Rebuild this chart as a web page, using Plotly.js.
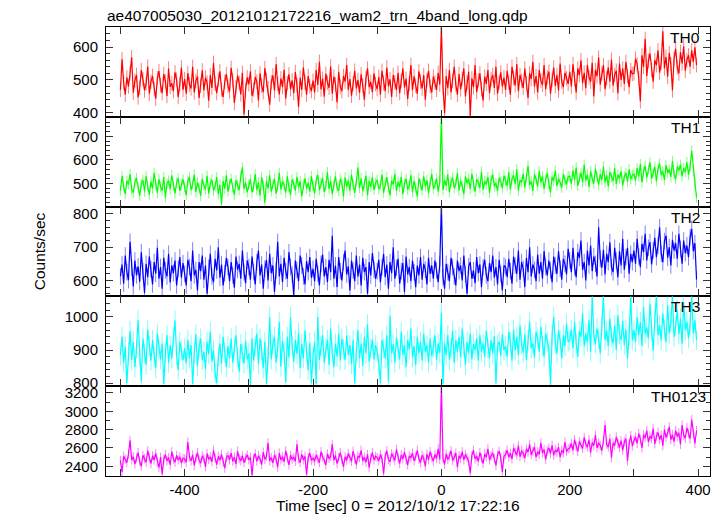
<!DOCTYPE html>
<html><head><meta charset="utf-8">
<script src="https://cdn.plot.ly/plotly-3.0.1.min.js"></script>
<style>html,body{margin:0;padding:0;background:#fff}#chart{width:724px;height:516px}</style>
</head><body><div id="chart"></div>
<script>
const T0 = -500, DT = 2.5;
const th0 = [
470,563,492,455,508,480,520,569,461,498,515,447,476,530,502,468,489,541,458,495,512,472,443,505,527,484,460,518,496,451,535,479,490,466,523,501,448,487,538,470,
503,458,521,486,474,540,462,497,511,445,483,529,468,507,492,437,515,476,552,489,460,501,526,471,448,494,518,482,465,537,499,430,478,513,491,456,522,395,470,508,
487,526,452,471,509,495,438,520,482,463,536,500,475,425,493,514,467,548,488,456,505,478,531,444,490,517,472,499,460,524,485,418,507,470,538,492,455,512,481,466,
498,462,530,485,555,471,504,449,519,492,476,541,458,510,487,432,525,480,466,512,495,545,470,503,452,488,528,474,500,461,517,483,440,506,535,478,494,463,520,488,
472,509,455,528,490,466,538,481,502,448,515,493,470,522,460,497,535,477,504,442,488,545,469,511,483,458,526,495,474,515,440,500,528,481,462,510,492,470,522,486,
665,480,398,512,475,530,462,497,540,486,455,518,471,503,535,450,492,525,390,505,478,545,463,499,520,472,438,510,488,530,460,502,515,476,540,458,494,523,480,507,
470,528,492,455,540,506,483,548,466,515,497,476,535,490,445,520,503,555,480,512,462,530,498,485,545,472,508,525,458,500,538,482,515,468,550,495,478,522,505,488,
525,480,548,502,462,535,515,560,490,522,475,545,508,495,552,450,530,512,568,486,520,545,472,505,538,495,562,483,515,528,460,550,500,535,488,555,512,478,530,518,
520,565,548,505,435,575,540,625,512,558,580,530,495,560,545,590,522,552,648,535,570,510,582,548,468,565,595,538,520,585,550,602,528,560,575,540,590,555,599,545];
const th1 = [
470,532,488,455,512,496,540,474,461,505,523,482,448,497,515,466,530,489,452,508,478,545,493,460,519,485,470,527,441,500,512,476,535,490,458,503,522,469,495,517,
485,450,512,528,472,496,538,463,505,482,447,520,490,475,533,458,501,516,470,488,527,455,494,412,510,478,535,466,499,520,483,452,514,491,472,530,568,477,505,462,
495,518,463,487,540,472,505,448,526,490,418,511,479,535,466,498,520,457,488,545,474,509,492,461,530,485,452,517,499,470,528,483,510,446,495,522,478,504,465,531,
489,458,515,536,472,501,524,463,490,548,477,510,455,495,530,482,468,519,503,444,526,487,513,470,538,495,460,508,568,481,522,467,499,533,450,511,486,527,473,502,
515,476,492,538,461,504,527,483,450,512,496,540,469,508,485,528,455,499,520,474,490,535,463,511,482,445,522,497,471,530,488,514,460,503,541,478,495,521,466,507,
790,472,515,490,538,463,507,525,481,498,545,470,512,488,455,530,502,520,476,541,493,465,518,505,482,550,474,510,496,528,460,515,539,487,502,468,524,509,480,533,
512,490,548,475,520,535,498,560,470,515,505,542,483,525,575,495,510,468,538,520,488,552,505,530,478,515,545,498,462,528,512,555,490,520,505,482,540,515,496,530,
530,498,555,515,568,490,525,545,505,580,512,538,485,552,520,500,562,530,495,540,515,572,505,535,488,548,525,510,565,498,538,520,552,492,530,545,508,560,518,535,
540,512,565,530,582,505,550,575,525,558,590,520,545,570,510,562,585,535,552,515,578,545,560,528,595,540,518,572,555,580,530,565,548,590,538,570,639,552,505,440];
const th2 = [
612,648,590,675,625,601,716,638,582,660,615,642,596,685,628,562,650,610,672,633,588,655,620,698,605,640,575,668,630,612,680,594,645,622,660,585,635,670,608,652,
620,585,662,640,598,690,615,632,570,655,628,675,602,645,560,638,680,612,595,665,630,700,608,648,585,622,668,640,598,655,615,578,672,632,650,605,690,625,592,660,
640,602,672,625,588,655,690,615,648,575,635,662,600,680,622,645,565,630,716,612,650,595,668,628,605,685,640,618,555,660,632,598,675,645,612,588,658,625,670,608,
635,598,665,620,585,650,678,612,640,595,662,625,734,605,645,580,670,628,600,655,690,618,642,570,660,630,598,675,612,648,585,668,625,640,560,655,615,682,632,605,
628,662,595,640,680,610,648,575,655,622,700,605,638,665,590,628,652,565,672,618,640,598,660,625,580,645,615,670,602,650,632,588,668,620,645,605,660,630,595,648,
830,610,575,650,625,598,668,640,612,585,660,628,645,600,675,618,560,642,655,605,630,592,670,622,648,580,640,662,615,598,652,625,675,608,640,588,662,620,570,645,
640,610,665,628,590,672,645,620,690,602,655,635,580,668,625,700,612,648,632,598,678,620,655,605,688,640,615,660,630,595,672,645,620,688,635,602,665,650,618,695,
660,625,698,640,610,685,668,720,632,655,600,690,645,705,628,672,650,612,760,665,638,692,618,680,655,715,640,625,698,660,610,688,645,725,632,670,698,620,680,655,
690,650,725,672,640,710,685,740,660,698,715,648,690,728,670,705,760,680,655,718,735,668,700,645,722,690,712,665,740,695,650,720,682,705,670,730,755,688,712,603];
const th3 = [
885,940,862,910,800,895,958,870,925,848,905,990,878,805,935,890,855,962,912,868,930,880,845,950,902,872,920,798,890,945,862,915,875,938,990,885,840,925,898,870,
905,860,930,875,915,798,890,948,852,908,935,870,895,842,925,888,955,865,900,830,800,880,920,858,940,892,848,912,875,935,862,905,945,880,835,918,890,860,928,872,
890,795,935,868,912,950,858,935,900,845,925,798,882,1000,872,918,940,862,905,985,850,928,895,802,940,878,1000,912,865,930,888,952,845,918,875,960,895,840,922,800,
880,925,798,1000,870,912,945,862,905,930,855,965,892,848,920,880,950,868,935,902,870,945,885,915,858,930,800,895,960,875,920,852,940,890,978,865,905,930,872,915,
895,860,800,930,905,875,945,805,1003,890,918,862,938,900,872,955,885,915,848,930,902,965,878,912,855,940,890,925,868,950,895,915,862,935,882,908,945,870,920,892,
1013,798,920,885,945,870,905,958,862,930,895,940,878,965,910,855,925,890,950,872,918,900,935,868,945,895,920,880,958,905,875,930,890,942,800,915,925,882,948,900,
912,880,955,925,868,962,900,940,885,975,918,892,948,870,930,985,905,920,878,955,935,895,970,912,880,950,925,902,793,945,1000,918,890,960,930,875,945,912,980,925,
930,962,905,985,920,880,958,940,1010,912,950,925,990,895,1065,945,918,965,935,890,975,1065,930,958,912,995,940,920,975,900,1005,948,930,988,915,962,875,945,1065,930,
960,925,1000,945,985,912,1030,950,968,935,1040,958,898,990,1065,945,975,930,1010,962,925,1035,950,985,1065,940,972,1020,948,995,918,1045,960,985,935,975,1065,950,990,930];
const th0123 = [
2465,2338,2510,2480,2440,2535,2684,2470,2505,2425,2490,2550,2455,2400,2520,2485,2445,2570,2495,2430,2515,2470,2540,2450,2385,2500,2315,2475,2530,2460,2495,2415,2560,2480,2445,2520,2470,2505,2435,2490,
2480,2445,2665,2500,2460,2525,2410,2490,2550,2470,2435,2515,2485,2395,2540,2475,2505,2450,2575,2490,2420,2510,2465,2530,2445,2380,2495,2520,2470,2545,2455,2500,2425,2565,2485,2460,2515,2440,2490,2525,
2470,2500,2305,2490,2540,2455,2515,2480,2420,2555,2475,2510,2655,2460,2495,2435,2525,2480,2390,2545,2470,2505,2450,2570,2490,2415,2520,2475,2500,2455,2640,2485,2440,2530,2470,2510,2310,2495,2545,2465,
2490,2455,2525,2480,2440,2560,2500,2470,2415,2535,2485,2510,2640,2465,2520,2430,2495,2550,2475,2395,2505,2465,2540,2490,2455,2565,2480,2420,2515,2495,2575,2460,2500,2445,2530,2385,2490,2550,2470,2510,
2495,2460,2530,2485,2320,2510,2570,2475,2450,2540,2500,2465,2585,2490,2430,2525,2480,2555,2470,2415,2515,2495,2545,2460,2505,2575,2480,2440,2520,2490,2400,2535,2470,2560,2500,2455,2530,2485,2590,2475,
3300,2490,2420,2535,2475,2510,2570,2465,2500,2545,2390,2515,2485,2560,2470,2530,2495,2455,2325,2520,2575,2480,2510,2455,2550,2490,2430,2535,2500,2590,2470,2515,2545,2485,2410,2525,2565,2495,2340,2510,
2530,2575,2500,2545,2480,2600,2555,2520,2625,2505,2570,2540,2490,2590,2555,2640,2525,2565,2610,2500,2560,2530,2655,2545,2585,2475,2570,2600,2540,2630,2520,2580,2555,2610,2500,2575,2545,2665,2560,2590,
2600,2650,2575,2690,2620,2560,2670,2635,2595,2715,2640,2610,2690,2550,2660,2625,2740,2600,2655,2630,2570,2680,2850,2640,2610,2700,2495,2655,2625,2720,2645,2605,2680,2575,2665,2700,2460,2640,2735,2620,
2680,2720,2650,2760,2695,2600,2745,2710,2790,2665,2730,2700,2810,2645,2725,2770,2690,2740,2625,2800,2715,2760,2830,2690,2745,2670,2790,2725,2765,2640,2850,2740,2705,2820,2760,2700,2909,2755,2650,2790];
const panelNames = ['TH0','TH1','TH2','TH3','TH0123'];
const errors = [22, 22, 25, 30, 50];
const yRanges = [[388,661],[402,783],[552,822],[791,1062],[2295,3273]];
const yDticks = [100,100,100,100,200];
const yMinorDticks = [20,20,20,20,100];
const xRange = [-522.5, 418.5];
const xTickVals = [-500,-400,-300,-200,-100,0,100,200,300,400];
const xTickText = ['','-400','','-200','','0','','200','','400'];
const xTitle = 'Time [sec] 0 = 2012/10/12 17:22:16';
const yTitle = 'Counts/sec';
const mainTitle = 'ae407005030_20121012172216_wam2_trn_4band_long.qdp';

const series = [th0, th1, th2, th3, th0123];
const colors = ['#ff0000','#00ff00','#0000ff','#00ffff','#ff00ff'];
const errColors = ['rgba(255,0,0,0.5)','rgba(0,255,0,0.5)','rgba(0,0,255,0.5)','rgba(0,255,255,0.5)','rgba(255,0,255,0.5)'];
const FONT = 'Liberation Sans, Arial, Helvetica, sans-serif';
const labelRight = [702, 702, 702, 702, 708];
const L = 106, R = 14, TOP = 27, B = 40, W = 724, H = 516;
const pw = W - L - R, ph = H - TOP - B;

const data = [];
const layout = {
  width: W, height: H,
  margin: {l: L, r: R, t: TOP, b: B},
  paper_bgcolor: '#fff', plot_bgcolor: '#fff',
  showlegend: false,
  font: {family: FONT, size: 15, color: '#000'},
  title: {text: mainTitle,
          font: {family: FONT, size: 15.5, color: '#000'},
          x: 107 / W, xref: 'container', xanchor: 'left',
          y: 1 - 15.5 / H, yref: 'container', yanchor: 'middle'},
  annotations: []
};
const n = 5;
for (let k = 0; k < n; k++) {
  const sfx = k === 0 ? '' : String(k + 1);
  const ys = series[k];
  const xs = ys.map((_, i) => T0 + i * DT);
  data.push({
    type: 'scatter', mode: 'lines', x: xs, y: ys,
    xaxis: 'x' + sfx, yaxis: 'y' + sfx,
    line: {color: colors[k], width: 1.2},
    error_y: {type: 'constant', value: errors[k], color: errColors[k], thickness: 1, width: 0},
    hoverinfo: 'skip'
  });
  const dom = [1 - (k + 1) / n, 1 - k / n];
  layout['yaxis' + sfx] = {
    domain: dom, range: yRanges[k], anchor: 'x' + sfx,
    tick0: 0, dtick: yDticks[k],
    ticks: 'inside', ticklen: 7, tickwidth: 1, tickcolor: '#333',
    minor: {dtick: yMinorDticks[k], tick0: 0, ticks: 'inside', ticklen: 4, tickwidth: 1, tickcolor: '#333'},
    showline: true, linecolor: '#000', linewidth: 1, mirror: 'ticks',
    showgrid: false, zeroline: false,
    tickfont: {family: FONT, size: 15, color: '#000'},
    ticklabelstandoff: 4
  };
  layout['xaxis' + sfx] = {
    domain: [0, 1], range: xRange, anchor: 'y' + sfx,
    tickmode: 'array', tickvals: xTickVals, ticktext: xTickText,
    ticks: 'inside', ticklen: 7, tickwidth: 1, tickcolor: '#333',
    showline: true, linecolor: '#000', linewidth: 1, mirror: 'ticks',
    showgrid: false, zeroline: false,
    showticklabels: k === n - 1,
    tickfont: {family: FONT, size: 15, color: '#000'}
  };
  layout.annotations.push({
    text: panelNames[k], showarrow: false,
    xref: 'paper', x: (labelRight[k] - L) / pw, xanchor: 'right',
    yref: 'y' + sfx + ' domain', y: 1, yanchor: 'top', yshift: 0,
    font: {family: FONT, size: 15.5, color: '#000'}
  });
}
// x-axis title, placed where the reference shows it (a little left of the frame centre)
layout.annotations.push({
  text: xTitle, showarrow: false,
  xref: 'paper', x: (398 - L) / pw, xanchor: 'center',
  yref: 'paper', y: -((506 - (H - B)) / ph), yanchor: 'middle',
  font: {family: FONT, size: 15.5, color: '#000'}
});
layout.yaxis3.title = {text: yTitle, font: {family: FONT, size: 15.5, color: '#000'}, standoff: 23};

Plotly.newPlot('chart', data, layout, {staticPlot: true, displayModeBar: false});
</script>
</body></html>
